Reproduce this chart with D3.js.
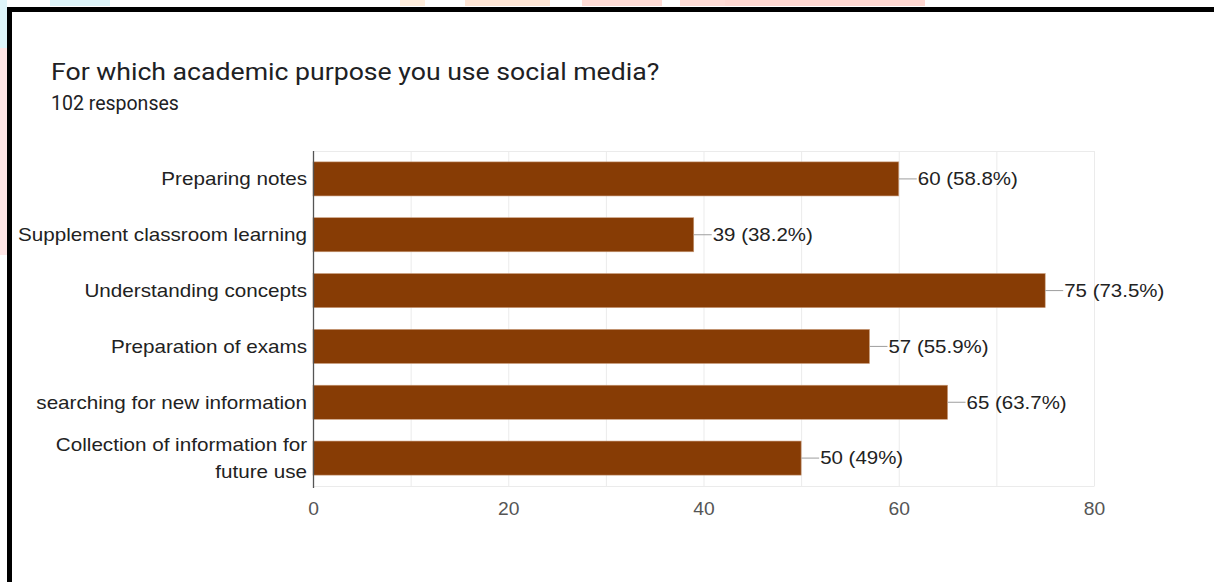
<!DOCTYPE html>
<html><head><meta charset="utf-8">
<script src="https://cdn.jsdelivr.net/npm/d3@7"></script>
<style>html,body{margin:0;padding:0;background:#fff;overflow:hidden}</style>
</head><body>
<svg id="c" width="1214" height="582"></svg>
<script>
const categories = ["Preparing notes","Supplement classroom learning","Understanding concepts","Preparation of exams","searching for new information","Collection of information for future use"];
const categoryLines = [["Preparing notes"],["Supplement classroom learning"],["Understanding concepts"],["Preparation of exams"],["searching for new information"],["Collection of information for","future use"]];
const values = [60,39,75,57,65,50];
const valueLabels = ["60 (58.8%)","39 (38.2%)","75 (73.5%)","57 (55.9%)","65 (63.7%)","50 (49%)"];
const xTicks = [0,20,40,60,80];
const gridTicks = [0,10,20,30,40,50,60,70,80];
const title = "For which academic purpose you use social media?";
const subtitle = "102 responses";

(function(){
const svg = d3.select("#c");
const deco = [
  {x:0,y:0,w:7,h:48,c:"#dff5fa"},{x:0,y:48,w:7,h:207,c:"#ffe6e6"},
  {x:50,y:0,w:60,h:6,c:"#dff5fa"},{x:400,y:0,w:25,h:6,c:"#ffeedd"},
  {x:465,y:0,w:85,h:6,c:"#ffe6d6"},{x:582,y:0,w:80,h:6,c:"#ffdcd6"},
  {x:680,y:0,w:140,h:6,c:"#ffdcd6"},{x:725,y:0,w:200,h:6,c:"#ffd8d2"}
];
svg.selectAll("rect.deco").data(deco).join("rect").attr("class","deco")
  .attr("x",d=>d.x).attr("y",d=>d.y).attr("width",d=>d.w).attr("height",d=>d.h).attr("fill",d=>d.c);
svg.append("rect").attr("x",7).attr("y",7).attr("width",1214).attr("height",5).attr("fill","#000");
svg.append("rect").attr("x",7).attr("y",7).attr("width",5).attr("height",582).attr("fill","#000");

svg.append("text").attr("transform","translate(51,80) scale(1.11,1)").text(title)
  .attr("font-family","Roboto, sans-serif").attr("font-size",24).attr("fill","#202124");
svg.append("text").attr("transform","translate(51,110)").text(subtitle)
  .attr("font-family","Roboto, sans-serif").attr("font-size",19.5).attr("fill","#202124");

const pl = 313, pr = 1094, pt = 151, pb = 486;
const x = d3.scaleLinear().domain([0,80]).range([pl,pr]);
const y = d3.scaleBand().domain(categories).range([pt,pb]).paddingInner(0.39).paddingOuter(0.195);
const FONT = "Liberation Sans, Arial, sans-serif";

const g = svg.append("g");
g.selectAll("line.grid").data(gridTicks).join("line").attr("class","grid")
  .attr("x1",d=>x(d)+0.5).attr("x2",d=>x(d)+0.5).attr("y1",pt).attr("y2",pb)
  .attr("stroke","#ebebeb").attr("stroke-width",1);
g.append("line").attr("x1",pl).attr("x2",pr).attr("y1",pt+0.5).attr("y2",pt+0.5).attr("stroke","#ebebeb");
g.append("line").attr("x1",pl).attr("x2",pr+0.5).attr("y1",pb+0.5).attr("y2",pb+0.5).attr("stroke","#ebebeb");

g.selectAll("rect.bar").data(values).join("rect").attr("class","bar")
  .attr("x",x(0)).attr("y",(d,i)=>y(categories[i]))
  .attr("width",d=>x(d)-x(0)).attr("height",y.bandwidth())
  .attr("fill","#873c05").attr("stroke","#c89a78").attr("stroke-width",0.6);

g.selectAll("line.lead").data(values).join("line").attr("class","lead")
  .attr("x1",d=>x(d)).attr("x2",d=>x(d)+18)
  .attr("y1",(d,i)=>y(categories[i])+y.bandwidth()/2).attr("y2",(d,i)=>y(categories[i])+y.bandwidth()/2)
  .attr("stroke","#9e9e9e").attr("stroke-width",1);
g.selectAll("text.val").data(values).join("text").attr("class","val")
  .attr("transform",(d,i)=>`translate(${x(d)+19},${y(categories[i])+y.bandwidth()/2}) scale(1.17,1)`)
  .attr("dy","0.36em").text((d,i)=>valueLabels[i])
  .attr("font-family",FONT).attr("font-size",17.5).attr("fill","#222");

g.append("line").attr("x1",pl+0.5).attr("x2",pl+0.5).attr("y1",pt).attr("y2",pb+2)
  .attr("stroke","#555").attr("stroke-width",1.3);

categories.forEach((c,i)=>{
  const lines = categoryLines[i];
  const cy = y(c)+y.bandwidth()/2;
  const lh = 27;
  const t = g.append("text").attr("text-anchor","end")
    .attr("transform",`translate(307,${cy}) scale(1.18,1)`)
    .attr("font-family",FONT).attr("font-size",17.5).attr("fill","#222");
  lines.forEach((l,j)=>{
    t.append("tspan").attr("x",0).attr("y",(j-(lines.length-1)/2)*lh).attr("dy","0.36em").text(l);
  });
});

const xAxis = d3.axisBottom(x).tickValues(xTicks).tickSize(0).tickPadding(17);
const ax = svg.append("g").attr("transform",`translate(0,${pb})`).call(xAxis);
ax.select(".domain").remove();
ax.selectAll("text").attr("font-family",FONT).attr("font-size",17.5).attr("fill","#555")
  .attr("transform","scale(1.1,1)");
})();
</script>
</body></html>
